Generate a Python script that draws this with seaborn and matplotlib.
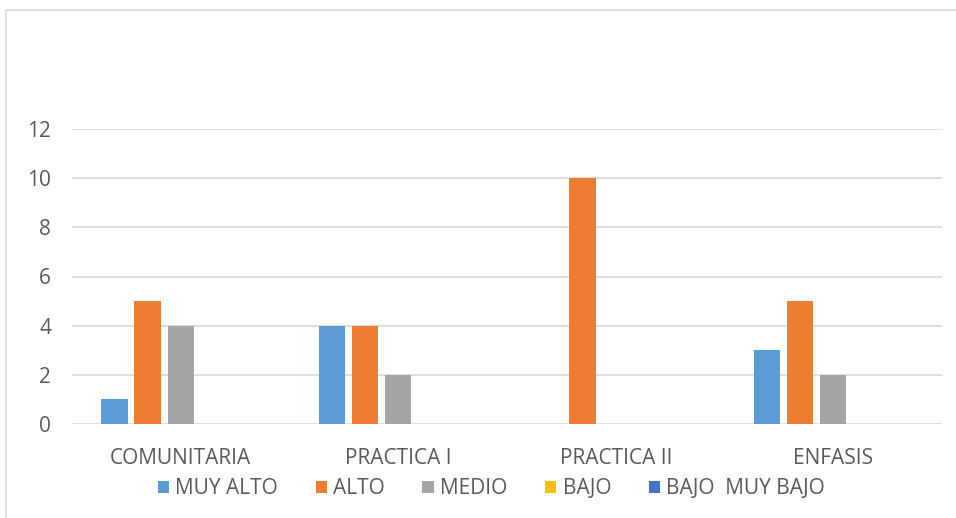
import pandas as pd
import seaborn as sns
import matplotlib.pyplot as plt
from matplotlib.patches import Rectangle

categorias = ['COMUNITARIA', 'PRACTICA I', 'PRACTICA II', 'ENFASIS']
series = ['MUY ALTO', 'ALTO', 'MEDIO', 'BAJO', 'BAJO  MUY BAJO']
muy_alto = [1, 4, 0, 3]
alto = [5, 4, 10, 5]
medio = [4, 2, 0, 2]
bajo = [0, 0, 0, 0]
muy_bajo = [0, 0, 0, 0]
colores = ['#5B9BD5', '#ED7D31', '#A5A5A5', '#FFC000', '#4472C4']

valores = [muy_alto, alto, medio, bajo, muy_bajo]
rows = []
for s, vals in zip(series, valores):
    for c, v in zip(categorias, vals):
        rows.append({'cat': c, 'serie': s, 'valor': v})
df = pd.DataFrame(rows)

sns.set_style('white')
plt.rcParams['font.family'] = ['Open Sans', 'DejaVu Sans']
texto = '#595959'

fig = plt.figure(figsize=(9.56, 5.18), dpi=100)
ax = fig.add_axes([72 / 956, 94 / 518, 870 / 956, 295 / 518])

sns.barplot(data=df, x='cat', y='valor', hue='serie', palette=colores,
            saturation=1, width=0.76, gap=0.2, linewidth=0, ax=ax, legend=True)

ax.set_ylim(0, 12)
ax.set_yticks(range(0, 13, 2))
ax.yaxis.grid(True, color='#D9D9D9', linewidth=1.2)
ax.set_axisbelow(True)
for sp in ax.spines.values():
    sp.set_visible(False)
ax.set_xlabel('')
ax.set_ylabel('')
ax.tick_params(axis='both', length=0, labelsize=15, colors=texto)
ax.tick_params(axis='y', pad=15)
ax.tick_params(axis='x', pad=17)

h, l = ax.get_legend_handles_labels()
ax.legend(h, l, loc='center', bbox_to_anchor=(0.482, -0.22), ncol=5,
          frameon=False, fontsize=15, handlelength=0.55, handleheight=0.55,
          handletextpad=0.3, columnspacing=1.8, labelcolor=texto)

# borde del grafico
fig.add_artist(Rectangle((6 / 956, -0.1), 1.1, 1 - 10 / 518 + 0.1,
                         transform=fig.transFigure, fill=False,
                         edgecolor='#D9D9D9', linewidth=1.2))

fig.savefig('out.png', dpi=100)
